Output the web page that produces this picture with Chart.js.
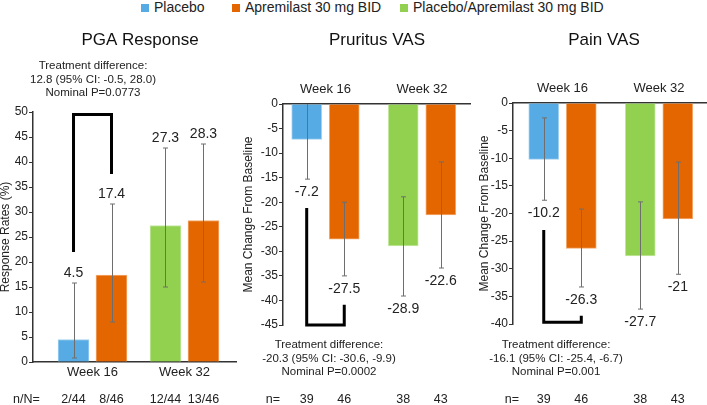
<!DOCTYPE html>
<html>
<head>
<meta charset="utf-8">
<title>PGA Response, Pruritus VAS, Pain VAS</title>
<script src="https://cdn.jsdelivr.net/npm/chart.js@4.4.1/dist/chart.umd.min.js"></script>
<style>
  html, body { margin: 0; padding: 0; background: #fff; }
  #page { position: relative; width: 707px; height: 405px; overflow: hidden; font-family: "Liberation Sans", Arial, sans-serif; color: #222; }
  #page canvas { position: absolute; top: 0; }
  #legend .item { position: absolute; top: 0; font-size: 14px; line-height: 15px; white-space: nowrap; }
  #legend .box { display: inline-block; width: 8px; height: 8px; margin-right: 5px; vertical-align: 0px; }
</style>
</head>
<body>
<div id="page">
  <div id="legend"></div>
  <canvas id="pgaCanvas" width="280" height="405" style="left:0px"></canvas>
  <canvas id="pruritusCanvas" width="294" height="405" style="left:230px"></canvas>
  <canvas id="painCanvas" width="288" height="405" style="left:460px"></canvas>
</div>
<script>
Chart.defaults.font.family = '"Liberation Sans", Arial, sans-serif';
Chart.defaults.color = '#222';

const weeks = ["Week 16", "Week 32"];
const arms = ["Placebo", "Apremilast 30 mg BID", "Placebo/Apremilast 30 mg BID"];
const armColors = ["#56abe4", "#e36600", "#92d050"];
const armEdges = ["#a3d2f1", "#f3ab70", "#c6e9a3"];
// which arm sits in each bar slot, per week
const armsByWeek = [[0, 1], [2, 1]];

// PGA response rate (%)
const pgaValues = [[4.5, 17.4], [27.3, 28.3]];
const pgaLow = [[0.8, 8.0], [15.0, 16.0]];
const pgaHigh = [[15.8, 31.6], [42.8, 43.6]];
const pgaN = [["2/44", "8/46"], ["12/44", "13/46"]];
const pgaNote = ["Treatment difference:", "12.8 (95% CI: -0.5, 28.0)", "Nominal P=0.0773"];
const pgaBracket = [22, 49.5, 37.6];

// Pruritus VAS, mean change from baseline
const pruritusValues = [[-7.2, -27.5], [-28.9, -22.6]];
const pruritusLow = [[-15.3, -35.0], [-39.1, -33.4]];
const pruritusHigh = [[0.9, -20.0], [-18.9, -11.8]];
const pruritusN = [["39", "46"], ["38", "43"]];
const pruritusNote = ["Treatment difference:", "-20.3 (95% CI: -30.6, -9.9)", "Nominal P=0.0002"];
const pruritusBracket = [-21.2, -45, -40.9];

// Pain VAS, mean change from baseline
const painValues = [[-10.2, -26.3], [-27.7, -21]];
const painLow = [[-17.6, -33.3], [-37.3, -31.0]];
const painHigh = [[-2.7, -19.2], [-17.9, -10.7]];
const painN = [["39", "46"], ["38", "43"]];
const painNote = ["Treatment difference:", "-16.1 (95% CI: -25.4, -6.7)", "Nominal P=0.001"];
const painBracket = [-23, -39.7, -38.5];

// legend
const legendLeft = [141, 232, 400];
const legend = document.getElementById("legend");
arms.forEach((name, i) => {
  const item = document.createElement("div");
  item.className = "item";
  item.style.left = legendLeft[i] + "px";
  item.innerHTML = '<span class="box" style="background:' + armColors[i] + '"></span>' + name;
  legend.appendChild(item);
});

const font = (size) => size + 'px "Liberation Sans", Arial, sans-serif';

const extrasPlugin = {
  id: "extras",
  afterDatasetsDraw(chart, args, opts) {
    const { ctx, chartArea, scales: { x, y } } = chart;
    const points = [];
    chart.data.datasets.forEach((ds, i) => {
      chart.getDatasetMeta(i).data.forEach((bar, j) => points.push({ bar, pt: ds.data[j] }));
    });

    // error bars
    ctx.save();
    ctx.beginPath();
    ctx.rect(chartArea.left, chartArea.top, chartArea.right - chartArea.left, chartArea.bottom - chartArea.top);
    ctx.clip();
    ctx.strokeStyle = "#6e6e6e";
    ctx.lineWidth = 1;
    points.forEach(({ bar, pt }) => {
      const cx = Math.round(bar.x) + 0.5;
      const yl = y.getPixelForValue(pt.lo);
      const yh = y.getPixelForValue(pt.hi);
      ctx.beginPath();
      ctx.moveTo(cx, yl); ctx.lineTo(cx, yh);
      ctx.moveTo(cx - 2.5, yl); ctx.lineTo(cx + 2.5, yl);
      ctx.moveTo(cx - 2.5, yh); ctx.lineTo(cx + 2.5, yh);
      ctx.stroke();
    });
    ctx.restore();

    ctx.save();
    ctx.fillStyle = "#222";
    ctx.textAlign = "center";
    ctx.textBaseline = "middle";

    // panel title
    ctx.fillStyle = "#111";
    ctx.font = font(17);
    ctx.fillText(opts.title, opts.titleX, 40);
    ctx.fillStyle = "#222";

    // value labels
    ctx.font = font(14);
    points.forEach(({ bar, pt }) => {
      const ly = pt.y >= 0 ? y.getPixelForValue(pt.hi) - 10 : y.getPixelForValue(pt.lo) + 13;
      ctx.fillText(String(pt.y), bar.x, ly);
    });

    // n row
    ctx.font = font(12.5);
    ctx.fillText(opts.nPrefix, opts.nPrefixX, opts.nY);
    points.forEach(({ bar, pt }) => ctx.fillText(pt.n, bar.x, opts.nY));

    // treatment difference note
    ctx.font = font(11.5);
    const noteX = x.getPixelForValue(0) + opts.noteDx;
    opts.note.forEach((line, i) => ctx.fillText(line, noteX, opts.noteY + i * 13.5));

    // comparison bracket between the two week 16 bars
    const [yStart, yCorner, yEnd] = opts.bracket.map(v => y.getPixelForValue(v));
    const x1 = x.getPixelForValue(-opts.pairStep / 2);
    const x2 = x.getPixelForValue(opts.pairStep / 2);
    ctx.strokeStyle = "#000";
    ctx.lineWidth = 3;
    ctx.lineJoin = "miter";
    ctx.beginPath();
    ctx.moveTo(x1, yStart);
    ctx.lineTo(x1, yCorner);
    ctx.lineTo(x2, yCorner);
    ctx.lineTo(x2, yEnd);
    ctx.stroke();
    ctx.restore();
  }
};

const makeDatasets = (values, low, high, counts, pairStep, thickness) =>
  arms.map((name, a) => {
    const data = [];
    armsByWeek.forEach((ids, w) => {
      const slot = ids.indexOf(a);
      if (slot < 0) return;
      data.push({
        x: w + (slot - 0.5) * pairStep,
        y: values[w][slot],
        lo: low[w][slot],
        hi: high[w][slot],
        n: counts[w][slot],
      });
    });
    return {
      label: name,
      data,
      backgroundColor: armColors[a],
      borderColor: armEdges[a],
      borderWidth: 1,
      barThickness: thickness,
      grouped: false,
    };
  });

const drawPanel = (canvasId, cfg) => {
  const canvas = document.getElementById(canvasId);
  return new Chart(canvas, {
    type: "bar",
    data: {
      datasets: makeDatasets(cfg.values, cfg.low, cfg.high, cfg.counts, cfg.pairStep, cfg.thickness),
    },
    options: {
      responsive: false,
      animation: false,
      events: [],
      layout: { padding: cfg.padding },
      plugins: {
        legend: { display: false },
        tooltip: { enabled: false },
        title: { display: false },
        extras: {
          title: cfg.title,
          titleX: cfg.titleX,
          pairStep: cfg.pairStep,
          bracket: cfg.bracket,
          note: cfg.note,
          noteDx: cfg.noteDx,
          noteY: cfg.noteY,
          nPrefix: cfg.nPrefix,
          nPrefixX: cfg.nPrefixX,
          nY: 400,
        },
      },
      scales: {
        x: {
          type: "linear",
          position: cfg.xPosition,
          offset: false,
          min: cfg.xMin,
          max: cfg.xMax,
          grid: { display: false, drawTicks: false },
          border: { display: true, color: "#333", width: 1.5 },
          ticks: { padding: cfg.xPad, font: { size: 13 }, color: "#222", callback: (v, i) => weeks[i] },
          afterBuildTicks: (s) => { s.ticks = weeks.map((w, i) => ({ value: i })); },
          afterFit: (s) => { s.height = 22; },
        },
        y: {
          min: cfg.yMin,
          max: cfg.yMax,
          ticks: { stepSize: 5, padding: 1, font: { size: 12 }, color: "#222" },
          grid: { drawOnChartArea: false, tickLength: 4, color: "#333" },
          border: { color: "#333", width: 1.5 },
          title: { display: true, text: cfg.yTitle, color: "#222", font: { size: 12, lineHeight: 1 }, padding: 0 },
          afterFit: (s) => { s.width = cfg.yWidth; },
        },
      },
    },
    plugins: [extrasPlugin],
  });
};

drawPanel("pgaCanvas", {
  title: "PGA Response", titleX: 140, yTitle: "Response Rates (%)",
  values: pgaValues, low: pgaLow, high: pgaHigh, counts: pgaN,
  note: pgaNote, bracket: pgaBracket,
  padding: { left: 0, right: 44, top: 112, bottom: 21 },
  yWidth: 33, xPosition: "bottom", xPad: 3,
  xMin: -0.647, xMax: 1.56, pairStep: 0.413, thickness: 31,
  yMin: 0, yMax: 50,
  noteDx: 0.5, noteY: 66, nPrefix: "n/N=", nPrefixX: 26.5,
});

drawPanel("pruritusCanvas", {
  title: "Pruritus VAS", titleX: 147, yTitle: "Mean Change From Baseline",
  values: pruritusValues, low: pruritusLow, high: pruritusHigh, counts: pruritusN,
  note: pruritusNote, bracket: pruritusBracket,
  padding: { left: 13, right: 54, top: 82, bottom: 80 },
  yWidth: 40, xPosition: "top", xPad: 6.5,
  xMin: -0.44, xMax: 1.497, pairStep: 0.389, thickness: 30,
  yMin: -45, yMax: 0,
  noteDx: 3.5, noteY: 345, nPrefix: "n=", nPrefixX: 43,
});

drawPanel("painCanvas", {
  title: "Pain VAS", titleX: 144, yTitle: "Mean Change From Baseline",
  values: painValues, low: painLow, high: painHigh, counts: painN,
  note: painNote, bracket: painBracket,
  padding: { left: 19, right: 41, top: 81, bottom: 81 },
  yWidth: 34, xPosition: "top", xPad: 6.5,
  xMin: -0.513, xMax: 1.497, pairStep: 0.389, thickness: 30,
  yMin: -40, yMax: 0,
  noteDx: -6.5, noteY: 345, nPrefix: "n=", nPrefixX: 52,
});
</script>
</body>
</html>
